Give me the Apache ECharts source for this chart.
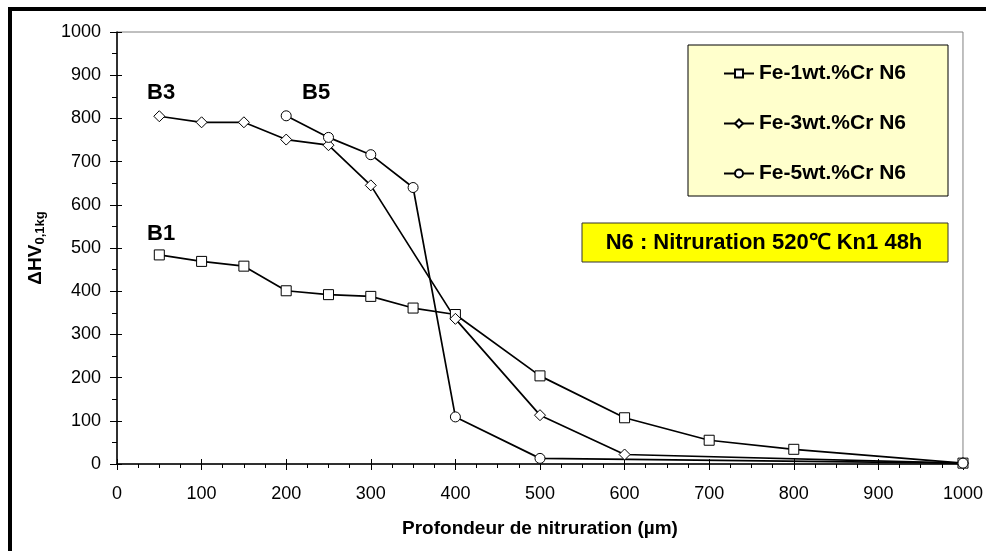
<!DOCTYPE html>
<html>
<head>
<meta charset="utf-8">
<script src="https://cdn.jsdelivr.net/npm/echarts@6/dist/echarts.min.js"></script>
<style>
  html, body { margin: 0; padding: 0; background: #fff; }
  #chart { width: 986px; height: 551px; }
</style>
</head>
<body>
<div id="chart"></div>
<script>
// profondeur (µm) et ΔHV pour chaque nuance
var depth_1 = [50, 100, 150, 200, 250, 300, 350, 400, 500, 600, 700, 800, 1000];
var hv_1 = [484, 469, 458, 401, 392, 388, 361, 346, 204, 107, 55, 34, 2];

var depth_3 = [50, 100, 150, 200, 250, 300, 400, 500, 600, 1000];
var hv_3 = [805, 791, 791, 751, 738, 645, 336, 113, 22, 2];

var depth_5 = [200, 250, 300, 350, 400, 500, 1000];
var hv_5 = [806, 756, 716, 640, 109, 13, 2];

var names = ['Fe-1wt.%Cr N6', 'Fe-3wt.%Cr N6', 'Fe-5wt.%Cr N6'];

function pairs(xs, ys) {
    return xs.map(function (x, i) { return [x, ys[i]]; });
}

// pas de séparateur de milliers
function plain(v) { return String(v); }

var font = 'Liberation Sans, Arial, sans-serif';

var myChart = echarts.init(document.getElementById('chart'));

function mkSeries(name, data, symbol, size) {
    return {
        name: name,
        type: 'line',
        data: data,
        symbol: symbol,
        symbolSize: size,
        showAllSymbol: true,
        lineStyle: { color: '#000', width: 1.7 },
        itemStyle: { color: '#fff', borderColor: '#000', borderWidth: 1 },
        emphasis: { disabled: true },
        animation: false
    };
}

var option = {
    animation: false,
    grid: {
        left: 117, right: 23, top: 32, bottom: 87,
        show: true, borderColor: '#808080', borderWidth: 1
    },
    xAxis: [{
        type: 'value', min: 0, max: 1000, interval: 100,
        name: 'Profondeur de nitruration (µm)',
        nameLocation: 'middle', nameGap: 55,
        nameTextStyle: { fontFamily: font, fontWeight: 'bold', fontSize: 19, color: '#000' },
        axisLine: { lineStyle: { color: '#000', width: 1.5 } },
        axisTick: { length: 6, lineStyle: { color: '#000' } },
        minorTick: { show: true, splitNumber: 4, length: 4, lineStyle: { color: '#000' } },
        axisLabel: { fontFamily: font, fontSize: 18, color: '#000', margin: 21, formatter: plain },
        splitLine: { show: false }
    }, {
        type: 'value', min: 0, max: 1000, interval: 100, position: 'bottom',
        axisLine: { show: false },
        axisTick: { inside: true, length: 5, lineStyle: { color: '#000' } },
        axisLabel: { show: false },
        splitLine: { show: false }
    }],
    yAxis: [{
        type: 'value', min: 0, max: 1000, interval: 100,
        name: '{a|ΔHV}{s|0,1kg}',
        nameLocation: 'middle', nameGap: 70, nameRotate: 90,
        nameTextStyle: {
            rich: {
                a: { fontFamily: font, fontWeight: 'bold', fontSize: 19, color: '#000' },
                s: { fontFamily: font, fontWeight: 'bold', fontSize: 13, color: '#000', padding: [9, 0, 0, 0] }
            }
        },
        axisLine: { lineStyle: { color: '#000', width: 1.5 } },
        axisTick: { length: 7, lineStyle: { color: '#000' } },
        minorTick: { show: true, splitNumber: 2, length: 5, lineStyle: { color: '#000' } },
        axisLabel: { fontFamily: font, fontSize: 18, color: '#000', margin: 16, formatter: plain },
        splitLine: { show: false }
    }, {
        type: 'value', min: 0, max: 1000, interval: 100, position: 'left',
        axisLine: { show: false },
        axisTick: { inside: true, length: 5, lineStyle: { color: '#000' } },
        axisLabel: { show: false },
        splitLine: { show: false }
    }],
    legend: {
        orient: 'vertical',
        left: 718, top: 58,
        itemWidth: 30, itemHeight: 10, itemGap: 29,
        textStyle: { fontFamily: font, fontWeight: 'bold', fontSize: 21, color: '#000' },
        data: names
    },
    graphic: [
        {
            type: 'rect', z: 0,
            shape: { x: 10, y: 9, width: 1000, height: 600 },
            style: { fill: 'none', stroke: '#000', lineWidth: 4 }
        },
        {
            type: 'rect', z: 1,
            shape: { x: 688, y: 45, width: 260, height: 151 },
            style: { fill: '#ffffcc', stroke: '#000', lineWidth: 1 }
        },
        {
            type: 'rect', z: 1,
            shape: { x: 582, y: 223, width: 366, height: 39 },
            style: { fill: '#ffff00', stroke: '#333', lineWidth: 1 }
        },
        {
            type: 'text', z: 2, x: 764, y: 243,
            style: {
                text: 'N6 : Nitruration 520℃ Kn1 48h',
                font: 'bold 22px ' + font, fill: '#000',
                align: 'center', verticalAlign: 'middle'
            }
        },
        {
            type: 'text', z: 2, x: 147, y: 93,
            style: { text: 'B3', font: 'bold 22px ' + font, fill: '#000', verticalAlign: 'middle' }
        },
        {
            type: 'text', z: 2, x: 302, y: 93,
            style: { text: 'B5', font: 'bold 22px ' + font, fill: '#000', verticalAlign: 'middle' }
        },
        {
            type: 'text', z: 2, x: 147, y: 234,
            style: { text: 'B1', font: 'bold 22px ' + font, fill: '#000', verticalAlign: 'middle' }
        }
    ],
    series: [
        mkSeries(names[0], pairs(depth_1, hv_1), 'rect', 10),
        mkSeries(names[1], pairs(depth_3, hv_3), 'diamond', 11),
        mkSeries(names[2], pairs(depth_5, hv_5), 'circle', 10)
    ]
};

myChart.setOption(option);

window.addEventListener('resize', function () {
    myChart.resize();
});
</script>
</body>
</html>
